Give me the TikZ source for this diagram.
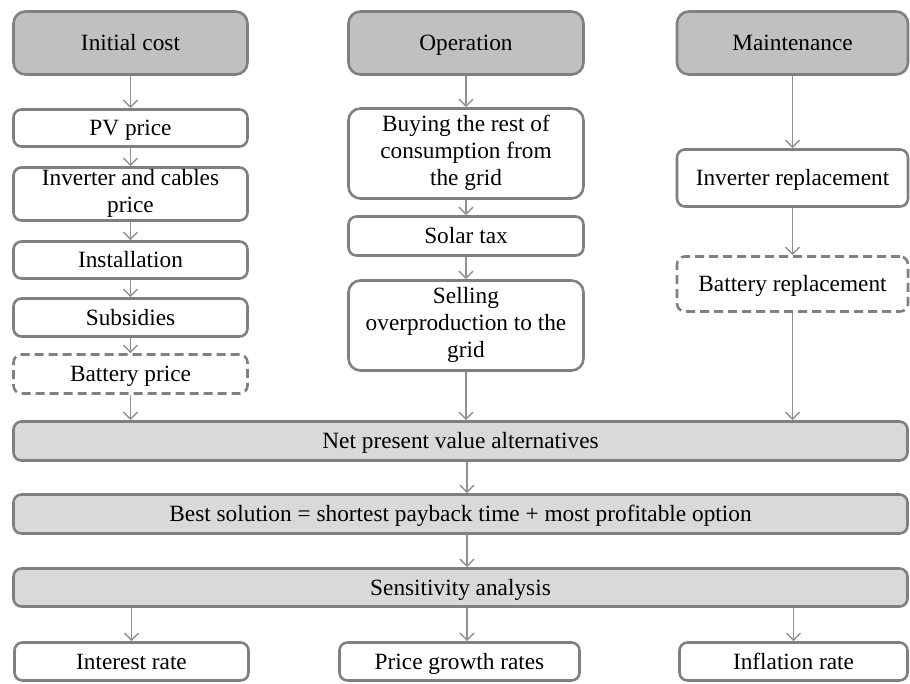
\documentclass[tikz,border=0pt]{standalone}
\usepackage{fontspec}
\setmainfont{Liberation Serif}
\usetikzlibrary{arrows.meta}
\definecolor{edge}{RGB}{128,128,128}
\definecolor{arrowgray}{RGB}{145,145,145}
\definecolor{headfill}{RGB}{192,192,192}
\definecolor{barfill}{RGB}{217,217,217}

\begin{document}
\begin{tikzpicture}[x=1pt,y=-1pt,
  box/.style={draw=edge, line width=2.6pt, rounded corners=8pt, align=center,
    inner sep=0pt, text=black, font=\fontsize{23.3}{27}\selectfont,
    execute at begin node={\rule{0pt}{21pt}},
    execute at end node={\rule[-5.6pt]{0pt}{5.6pt}}},
  head/.style={box, fill=headfill, rounded corners=12pt},
  plain/.style={box, fill=white},
  tall/.style={plain, rounded corners=12pt},
  opt/.style={plain, dash pattern=on 9pt off 5pt},
  bar/.style={box, fill=barfill},
  flow/.style={draw=arrowgray, line width=1.5pt,
    -{Straight Barb[length=7pt,width=14pt,line width=1.5pt]}}
]
\useasboundingbox (0,0) rectangle (910,683);

% column headers
\node[head, minimum width=234pt, minimum height=63pt] (init) at (130.5,43) {Initial cost};
\node[head, minimum width=235pt, minimum height=63pt] (oper) at (466,43) {Operation};
\node[head, minimum width=231pt, minimum height=63pt] (main) at (792.5,43) {Maintenance};

% initial cost items
\node[plain, minimum width=234pt, minimum height=37pt] (pv)   at (130.5,128) {PV price};
\node[plain, minimum width=234pt, minimum height=53pt] (inv)  at (130.5,194) {Inverter and cables\\price};
\node[plain, minimum width=234pt, minimum height=37pt] (inst) at (130.5,260) {Installation};
\node[plain, minimum width=234pt, minimum height=38pt] (subs) at (130.5,317.5) {Subsidies};
\node[opt,   minimum width=234pt, minimum height=39pt] (batp) at (130.5,374) {Battery price};

% operation items
\node[tall,  minimum width=235pt, minimum height=90pt] (buy)  at (466,153.5) {Buying the rest of\\consumption from\\the grid};
\node[plain, minimum width=235pt, minimum height=39pt] (tax)  at (466,236) {Solar tax};
\node[tall,  minimum width=235pt, minimum height=90pt] (sell) at (466,325.5) {Selling\\overproduction to the\\grid};

% maintenance items
\node[plain, minimum width=231pt, minimum height=57pt] (invr) at (792.5,178) {Inverter replacement};
\node[opt,   minimum width=231pt, minimum height=55pt] (batr) at (792.5,284) {Battery replacement};

% evaluation chain
\node[bar, minimum width=894pt, minimum height=39pt] (npv)  at (460.5,441) {Net present value alternatives};
\node[bar, minimum width=894pt, minimum height=39pt] (best) at (460.5,514) {Best solution = shortest payback time + most profitable option};
\node[bar, minimum width=894pt, minimum height=38pt] (sens) at (460.5,587.5) {Sensitivity analysis};

% sensitivity parameters
\node[plain, minimum width=234pt, minimum height=38pt] (rate) at (131.5,661.5) {Interest rate};
\node[plain, minimum width=240pt, minimum height=38pt] (grow) at (459.5,661.5) {Price growth rates};
\node[plain, minimum width=228pt, minimum height=38pt] (infl) at (793.5,661.5) {Inflation rate};

\coordinate (mid) at (467,0);

% column flows
\draw[flow] (init) -- (pv);
\draw[flow] (pv) -- (inv);
\draw[flow] (inv) -- (inst);
\draw[flow] (inst) -- (subs);
\draw[flow] (subs) -- (batp);
\draw[flow] (batp) -- (batp |- npv.north);

\draw[flow] (oper) -- (buy);
\draw[flow] (buy) -- (tax);
\draw[flow] (tax) -- (sell);
\draw[flow] (sell) -- (sell |- npv.north);

\draw[flow] (main) -- (invr);
\draw[flow] (invr) -- (batr);
\draw[flow] (batr) -- (batr |- npv.north);

% evaluation flows
\draw[flow] (npv.south -| mid) -- (best.north -| mid);
\draw[flow] (best.south -| mid) -- (sens.north -| mid);
\draw[flow] (sens.south -| rate) -- (rate);
\draw[flow] (sens.south -| mid) -- (grow.north -| mid);
\draw[flow] (sens.south -| infl) -- (infl);
\end{tikzpicture}
\end{document}
